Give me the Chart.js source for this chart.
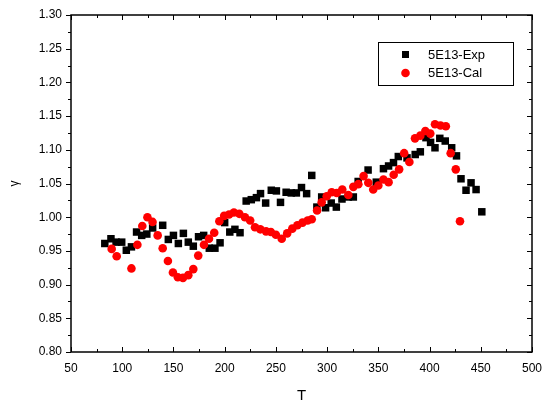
<!DOCTYPE html>
<html>
<head>
<meta charset="utf-8">
<script src="https://cdn.jsdelivr.net/npm/chart.js@4.4.1/dist/chart.umd.min.js"></script>
<style>
  body { margin: 0; background: #fff; }
  #wrap { width: 544px; height: 405px; }
</style>
</head>
<body>
<div id="wrap"><canvas id="gammaChart" width="544" height="405"></canvas></div>
<script>
// data
var expT = [83, 89, 94, 99.5, 104, 109, 114, 119, 124, 129.7, 139.5, 145, 150, 154.8, 159.7, 164.5, 169.4, 174.5, 179.5, 185, 190.5, 195.5, 200, 205, 210, 215, 221, 226, 231, 235, 240, 245.5, 250.5, 254.5, 260, 265, 270, 275, 280, 285, 290, 294.7, 298.5, 304, 309, 314.5, 320.7, 325.6, 330.3, 340, 348, 355, 360, 364.8, 369.5, 378, 386, 391, 396.5, 401, 405.3, 410, 415.3, 421.6, 426.3, 430.7, 435.6, 440.5, 445.4, 451];
var expG = [0.961, 0.968, 0.963, 0.963, 0.951, 0.956, 0.978, 0.973, 0.975, 0.984, 0.988, 0.967, 0.973, 0.961, 0.976, 0.963, 0.957, 0.971, 0.973, 0.954, 0.954, 0.962, 0.992, 0.978, 0.982, 0.977, 1.024, 1.026, 1.029, 1.035, 1.021, 1.040, 1.039, 1.022, 1.037, 1.036, 1.036, 1.044, 1.035, 1.062, 1.015, 1.030, 1.014, 1.021, 1.015, 1.027, 1.030, 1.030, 1.053, 1.070, 1.052, 1.072, 1.076, 1.081, 1.090, 1.088, 1.093, 1.097, 1.118, 1.111, 1.103, 1.117, 1.113, 1.103, 1.091, 1.057, 1.040, 1.051, 1.041, 1.008];

var calT = [89.7, 94.6, 109, 114.8, 119.6, 124.6, 129.6, 134.6, 139.5, 144.6, 149.5, 154.3, 159.3, 164.5, 169.4, 174.2, 179.8, 184.7, 189.8, 194.8, 199.5, 204.3, 209, 214.3, 219.8, 224.9, 229.6, 234.8, 240.4, 245.1, 250, 255.7, 261, 266, 271, 276, 281, 285, 290.2, 294.7, 299.6, 304.5, 309.4, 314.8, 320.7, 325.6, 330.5, 335.6, 340.2, 345, 350, 355, 360, 365, 370.3, 375.2, 380.3, 385.8, 391, 395.9, 400.7, 405.3, 410.7, 415.9, 420.6, 425.6, 429.7];
var calG = [0.953, 0.942, 0.924, 0.959, 0.987, 1.000, 0.993, 0.973, 0.954, 0.935, 0.918, 0.911, 0.910, 0.914, 0.923, 0.943, 0.959, 0.968, 0.977, 0.994, 1.002, 1.004, 1.007, 1.005, 1.000, 0.995, 0.985, 0.982, 0.979, 0.978, 0.974, 0.968, 0.976, 0.983, 0.988, 0.992, 0.995, 0.997, 1.010, 1.022, 1.031, 1.037, 1.036, 1.041, 1.033, 1.045, 1.049, 1.061, 1.051, 1.041, 1.047, 1.056, 1.052, 1.063, 1.071, 1.095, 1.082, 1.117, 1.121, 1.128, 1.124, 1.138, 1.136, 1.135, 1.095, 1.071, 0.994];

var seriesNames = ["5E13-Exp", "5E13-Cal"];
var xTicks = [50, 100, 150, 200, 250, 300, 350, 400, 450, 500];
var yTicks = [0.80, 0.85, 0.90, 0.95, 1.00, 1.05, 1.10, 1.15, 1.20, 1.25, 1.30];

function toPoints(xs, ys) {
    var pts = [];
    for (var i = 0; i < xs.length; i++) pts.push({ x: xs[i], y: ys[i] });
    return pts;
}

var fontFam = 'Arial, "Liberation Sans", sans-serif';

// frame, ticks (major + minor) and the boxed legend
var framePlugin = {
    id: 'frame',
    afterDraw: function (chart) {
        var ctx = chart.ctx;
        var a = chart.chartArea;
        var xs = chart.scales.x, ys = chart.scales.y;
        ctx.save();
        ctx.strokeStyle = '#000';
        ctx.lineWidth = 1.5;
        ctx.strokeRect(a.left, a.top, a.right - a.left, a.bottom - a.top);
        ctx.lineWidth = 1;
        ctx.beginPath();
        for (var v = 50; v <= 500; v += 25) {
            var px = Math.round(xs.getPixelForValue(v)) + 0.5;
            var len = (v % 50 === 0) ? 5 : 3;
            ctx.moveTo(px, a.bottom); ctx.lineTo(px, a.bottom - len);
            ctx.moveTo(px, a.top); ctx.lineTo(px, a.top + len);
        }
        for (var k = 0; k <= 20; k++) {
            var val = 0.8 + k * 0.025;
            var py = Math.round(ys.getPixelForValue(val)) + 0.5;
            var l2 = (k % 2 === 0) ? 5 : 3;
            ctx.moveTo(a.left, py); ctx.lineTo(a.left - l2, py);
            ctx.moveTo(a.right, py); ctx.lineTo(a.right - l2, py);
        }
        ctx.stroke();

        // legend box
        var bx = 378, by = 42, bw = 135, bh = 43;
        ctx.fillStyle = '#fff';
        ctx.fillRect(bx, by, bw, bh);
        ctx.strokeRect(bx + 0.5, by + 0.5, bw, bh);
        ctx.fillStyle = '#000';
        ctx.fillRect(402, 51, 7, 7);
        ctx.fillStyle = '#ff0000';
        ctx.beginPath();
        ctx.arc(405.5, 73, 4.3, 0, Math.PI * 2);
        ctx.fill();
        ctx.fillStyle = '#000';
        ctx.font = '13px ' + fontFam;
        ctx.textBaseline = 'middle';
        ctx.fillText(chart.data.datasets[0].label, 428, 55);
        ctx.fillText(chart.data.datasets[1].label, 428, 73);
        ctx.restore();
    }
};

var config = {
    type: 'scatter',
    data: {
        datasets: [{
            label: seriesNames[0],
            data: toPoints(expT, expG),
            pointStyle: 'rect',
            pointRadius: 5.3,
            pointHoverRadius: 5.3,
            backgroundColor: '#000',
            borderColor: '#000',
            borderWidth: 0,
            order: 1
        }, {
            label: seriesNames[1],
            data: toPoints(calT, calG),
            pointStyle: 'circle',
            pointRadius: 4.3,
            pointHoverRadius: 4.3,
            backgroundColor: '#ff0000',
            borderColor: '#ff0000',
            borderWidth: 0,
            order: 0
        }]
    },
    options: {
        responsive: false,
        animation: false,
        layout: { padding: { top: 15, right: 12, left: 0, bottom: 0 } },
        plugins: {
            legend: { display: false },
            tooltip: { enabled: false }
        },
        scales: {
            x: {
                type: 'linear',
                min: 50, max: 500,
                afterBuildTicks: function (s) { s.ticks = xTicks.map(function (v) { return { value: v }; }); },
                afterFit: function (s) { s.height = 53; s.paddingLeft = 0; s.paddingRight = 0; },
                grid: { display: false, drawTicks: false },
                border: { display: false },
                ticks: { color: '#000', padding: 9, font: { family: fontFam, size: 12 }, maxRotation: 0 },
                title: { display: true, text: 'T', color: '#000', font: { family: fontFam, size: 15 }, padding: { top: 4, bottom: 0 } }
            },
            y: {
                type: 'linear',
                min: 0.8, max: 1.3,
                afterBuildTicks: function (s) { s.ticks = yTicks.map(function (v) { return { value: v }; }); },
                afterFit: function (s) { s.width = 71; s.paddingTop = 0; s.paddingBottom = 0; },
                grid: { display: false, drawTicks: false },
                border: { display: false },
                ticks: {
                    color: '#000', padding: 9, font: { family: fontFam, size: 12 },
                    callback: function (v) { return Number(v).toFixed(2); }
                },
                title: { display: true, text: 'γ', color: '#000', font: { family: fontFam, size: 12 }, padding: { top: 7, bottom: 6 } }
            }
        }
    },
    plugins: [framePlugin]
};

var chart = new Chart(document.getElementById('gammaChart'), config);
</script>
</body>
</html>
